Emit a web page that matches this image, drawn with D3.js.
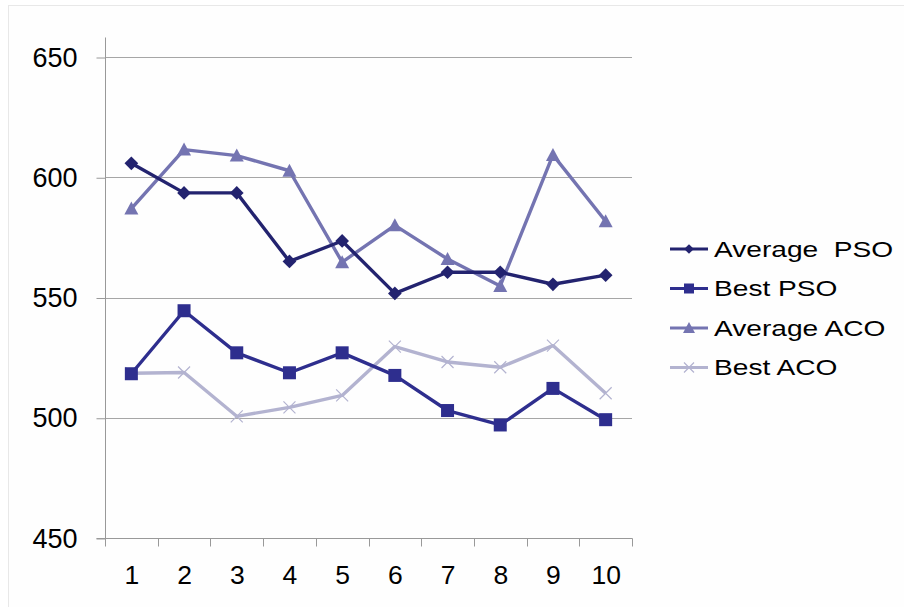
<!DOCTYPE html>
<html>
<head>
<meta charset="utf-8">
<script src="https://cdn.jsdelivr.net/npm/d3@7"></script>
<style>
  html, body { margin: 0; padding: 0; background: #ffffff; }
  svg { display: block; font-family: "Liberation Sans", Arial, sans-serif; }
</style>
</head>
<body>
<svg id="chart" width="904" height="607"></svg>
<script>
// Run numbers 1..10 on the x axis
const categories = ["1", "2", "3", "4", "5", "6", "7", "8", "9", "10"];
const yTicks = [450, 500, 550, 600, 650];

const averagePSO = [605.8, 593.5, 593.5, 565, 573.5, 551.7, 560.5, 560.5, 555.5, 559.3];
const bestPSO    = [518.3, 544.5, 527, 518.7, 527, 517.6, 503, 497, 512.2, 499.2];
const averageACO = [587, 611.5, 609, 602.7, 564.7, 580, 566, 554.8, 609.3, 581.7];
const bestACO    = [518.5, 518.8, 500.6, 504.3, 509.3, 529.6, 523.2, 521, 530, 510.2];

const seriesNames = ["Average  PSO", "Best PSO", "Average ACO", "Best ACO"];

const series = [
  { name: seriesNames[0], values: averagePSO, color: "#23236f", marker: "diamond" },
  { name: seriesNames[1], values: bestPSO,    color: "#2e2e8e", marker: "square" },
  { name: seriesNames[2], values: averageACO, color: "#7474b1", marker: "triangle" },
  { name: seriesNames[3], values: bestACO,    color: "#b3b3d0", marker: "cross" }
];

const svg = d3.select("#chart");

// outer frame
svg.append("rect")
  .attr("x", 8.5).attr("y", 5.5).attr("width", 900).attr("height", 610)
  .attr("fill", "#fefefe").attr("stroke", "#e8e8e8");

const plot = { left: 105, right: 632, top: 57, bottom: 538 };

const x = d3.scaleBand().domain(categories).range([plot.left, plot.right]);
const y = d3.scaleLinear().domain([450, 650]).range([plot.bottom, plot.top]);

// horizontal gridlines
svg.append("g")
  .selectAll("line")
  .data(yTicks.slice(1))
  .join("line")
  .attr("x1", plot.left).attr("x2", plot.right)
  .attr("y1", d => Math.round(y(d)) + 0.5).attr("y2", d => Math.round(y(d)) + 0.5)
  .attr("stroke", "#a6a6a6").attr("stroke-width", 1);

// y axis
const yAxis = svg.append("g")
  .attr("transform", `translate(${plot.left + 0.5},0.5)`)
  .call(d3.axisLeft(y).tickValues(yTicks).tickSize(9).tickPadding(19).tickFormat(d3.format("d")));
yAxis.select(".domain").attr("stroke", "#999").attr("d", `M-0,${plot.top - 20}V${plot.bottom}`);
yAxis.selectAll(".tick line").attr("stroke", "#999");
yAxis.selectAll(".tick text")
  .attr("font-size", 27).attr("fill", "#000")
  .attr("font-family", "'Liberation Sans', Arial, sans-serif");

// x axis
const xAxis = svg.append("g")
  .attr("transform", `translate(0.5,${plot.bottom + 0.5})`)
  .call(d3.axisBottom(x).tickSize(0).tickPadding(27));
xAxis.select(".domain").attr("stroke", "#999").attr("d", `M${plot.left - 9},0H${plot.right}`);
xAxis.selectAll(".tick text")
  .attr("font-size", 26.5).attr("fill", "#000")
  .attr("font-family", "'Liberation Sans', Arial, sans-serif");
// tick marks between categories
xAxis.append("g")
  .selectAll("line")
  .data(categories.concat(["end"]))
  .join("line")
  .attr("x1", (d, i) => Math.round(plot.left + i * x.step()))
  .attr("x2", (d, i) => Math.round(plot.left + i * x.step()))
  .attr("y1", 0).attr("y2", 8)
  .attr("stroke", "#999");

const cx = (d, i) => x(categories[i]) + x.bandwidth() / 2;

function drawMarker(g, type, color) {
  if (type === "diamond") {
    g.append("path").attr("d", d3.symbol(d3.symbolDiamond2, 120)()).attr("fill", color);
  } else if (type === "square") {
    g.append("rect").attr("x", -6.5).attr("y", -6.5).attr("width", 13).attr("height", 13).attr("fill", color);
  } else if (type === "triangle") {
    g.append("path").attr("d", "M0,-7L7,6L-7,6Z").attr("fill", color);
  } else if (type === "cross") {
    g.append("path").attr("d", "M-6,-6L6,6M-6,6L6,-6").attr("stroke", color).attr("stroke-width", 1.2).attr("fill", "none");
  }
}

const line = d3.line().x(cx).y(d => y(d));

// draw in reverse so the darker series sit on top
series.slice().reverse().forEach(s => {
  const g = svg.append("g");
  g.append("path")
    .attr("d", line(s.values))
    .attr("fill", "none")
    .attr("stroke", s.color)
    .attr("stroke-width", 3.4)
    .attr("stroke-linejoin", "round");
  s.values.forEach((v, i) => {
    const m = g.append("g").attr("transform", `translate(${cx(v, i)},${y(v)})`);
    drawMarker(m, s.marker, s.color);
  });
});

// legend
const legend = svg.append("g").attr("transform", "translate(670,249)");
series.forEach((s, i) => {
  const row = legend.append("g").attr("transform", `translate(0,${i * 39.5})`);
  row.append("line").attr("x1", 0).attr("x2", 38).attr("y1", 0).attr("y2", 0)
    .attr("stroke", s.color).attr("stroke-width", 3);
  const m = row.append("g").attr("transform", "translate(19,0)");
  if (s.marker === "diamond") {
    m.append("path").attr("d", d3.symbol(d3.symbolDiamond2, 60)()).attr("fill", s.color);
  } else if (s.marker === "square") {
    m.append("rect").attr("x", -5).attr("y", -5).attr("width", 10).attr("height", 10).attr("fill", s.color);
  } else if (s.marker === "triangle") {
    m.append("path").attr("d", "M0,-6L6,5L-6,5Z").attr("fill", s.color);
  } else {
    m.append("path").attr("d", "M-5,-5L5,5M-5,5L5,-5").attr("stroke", s.color).attr("stroke-width", 1.2);
  }
  // legend labels are set in a horizontally widened face
  row.append("text")
    .attr("transform", "translate(44,0) scale(1.25,1)")
    .attr("x", 0).attr("y", 0).attr("dy", "0.35em")
    .attr("font-size", 22.5).attr("fill", "#000")
    .attr("xml:space", "preserve")
    .style("white-space", "pre")
    .text(s.name);
});
</script>
</body>
</html>
